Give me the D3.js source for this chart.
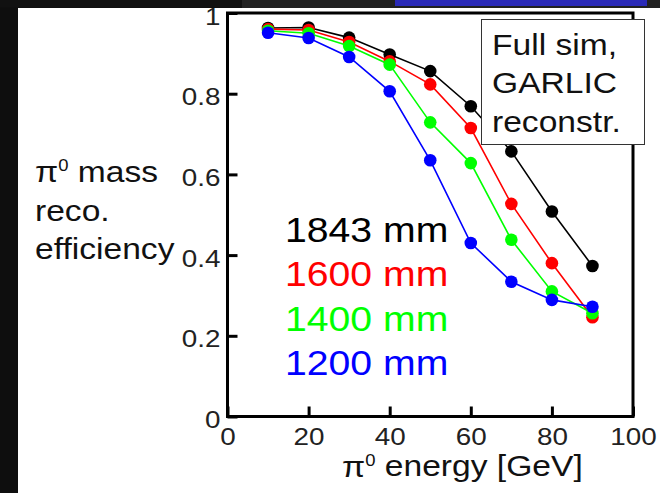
<!DOCTYPE html>
<html>
<head>
<meta charset="utf-8">
<script src="https://cdn.jsdelivr.net/npm/d3@7"></script>
<style>
  body { margin: 0; background: #0e0e0e; }
  svg { display: block; }
  text { font-family: "Liberation Sans", Arial, sans-serif; }
</style>
</head>
<body>
<div id="chart"></div>
<script>
// pi0 energy in GeV
const energies = [10, 20, 30, 40, 50, 60, 70, 80, 90]
// reconstruction efficiency for each calorimeter radius
const eff1843 = [0.963, 0.964, 0.939, 0.897, 0.856, 0.769, 0.657, 0.508, 0.373]
const eff1600 = [0.960, 0.958, 0.928, 0.880, 0.823, 0.715, 0.527, 0.380, 0.246]
const eff1400 = [0.956, 0.950, 0.918, 0.872, 0.729, 0.628, 0.438, 0.310, 0.256]
const eff1200 = [0.951, 0.938, 0.891, 0.806, 0.635, 0.430, 0.334, 0.289, 0.272]

const seriesNames = ["1843 mm", "1600 mm", "1400 mm", "1200 mm"]
const seriesColors = ["#000000", "#ff0000", "#00ff00", "#0000ff"]
const seriesValues = [eff1843, eff1600, eff1400, eff1200]

const xTicks = [0, 20, 40, 60, 80, 100]
const yTicks = [0, 0.2, 0.4, 0.6, 0.8, 1]
const noteLines = ["Full sim,", "GARLIC", "reconstr."]

const W = 660, H = 493
const stretch = 1.12   // text in the picture is a bit wider than plain Arial

const svg = d3.select("#chart").append("svg")
    .attr("width", W)
    .attr("height", H)

// slide background around the figure
svg.append("rect").attr("width", W).attr("height", H).attr("fill", "#0e0e0e")
svg.append("rect").attr("x", 242).attr("y", 0).attr("width", W - 242).attr("height", 8).attr("fill", "#222")
svg.append("rect").attr("x", 18).attr("y", 8).attr("width", W - 18).attr("height", H - 8).attr("fill", "#fff")

let x = d3.scaleLinear().domain([0, 100]).range([227.5, 633])
let y = d3.scaleLinear().domain([0, 1]).range([416.5, 13])

// axes, ticks pointing inwards
let xAxis = svg.append("g")
    .attr("transform", "translate(0," + y(0) + ")")
    .call(d3.axisBottom(x).tickValues(xTicks).tickSize(-10).tickPadding(11).tickFormat(d => String(d)))
let yAxis = svg.append("g")
    .attr("transform", "translate(" + x(0) + ",0)")
    .call(d3.axisLeft(y).tickValues(yTicks).tickSize(-10).tickPadding(6).tickFormat(d => String(d)))

for (let ax of [xAxis, yAxis]) {
    ax.select(".domain").remove()
    ax.selectAll(".tick line").attr("stroke", "#000").attr("stroke-width", 3)
    ax.selectAll(".tick text")
        .attr("fill", "#222")
        .style("font-size", "24px")
        .attr("transform", `scale(${stretch + 0.04},1)`)
}
yAxis.selectAll(".tick text").attr("dy", "0.46em")

// plot frame
svg.append("rect")
    .attr("x", x(0)).attr("y", y(1))
    .attr("width", x(100) - x(0)).attr("height", y(0) - y(1))
    .attr("fill", "none").attr("stroke", "#000").attr("stroke-width", 3)

// series
let line = d3.line().x((d, i) => x(energies[i])).y(d => y(d))
seriesValues.forEach((vals, k) => {
    svg.append("path")
        .attr("d", line(vals))
        .attr("fill", "none")
        .attr("stroke", seriesColors[k])
        .attr("stroke-width", 1.6)
    svg.append("g").selectAll("circle")
        .data(vals)
        .enter()
        .append("circle")
        .attr("cx", (d, i) => x(energies[i]))
        .attr("cy", d => y(d))
        .attr("r", 6.3)
        .attr("fill", seriesColors[k])
})

// helper for stretched text
function label(px, py, size, color) {
    return svg.append("text")
        .attr("transform", `translate(${px},${py}) scale(${stretch},1)`)
        .attr("fill", color)
        .style("font-size", size + "px")
}

function piZero(t) {
    t.append("tspan").text("\u03c0")
    t.append("tspan").attr("dy", "-0.62em").style("font-size", "0.55em").text("0")
    t.append("tspan").attr("dy", "0.34em").text(" ")
}

// y title
let t1 = label(35, 181.7, 30, "#111")
piZero(t1)
t1.append("tspan").text("mass")
label(35, 220.7, 30, "#111").text("reco.")
label(35, 258.5, 30, "#111").text("efficiency")

// x title
let t2 = label(342, 476.5, 30, "#111")
piZero(t2)
t2.append("tspan").text("energy [GeV]")

// legend
seriesNames.forEach((name, k) => {
    label(285, 242 + k * 44.3, 35, seriesColors[k]).text(name)
})

// note box
svg.append("rect")
    .attr("x", 481.5).attr("y", 19.5).attr("width", 163).attr("height", 125)
    .attr("fill", "#fff").attr("stroke", "#333").attr("stroke-width", 1)
noteLines.forEach((s, i) => {
    label(492, 55 + i * 38.3, 30, "#111").text(s)
})

// blue bar on the slide top
svg.append("rect").attr("x", 0).attr("y", 0).attr("width", 242).attr("height", 7.5).attr("fill", "#111")
svg.append("rect").attr("x", 395).attr("y", 0).attr("width", 252).attr("height", 6).attr("fill", "#2b2bb8")
</script>
</body>
</html>
